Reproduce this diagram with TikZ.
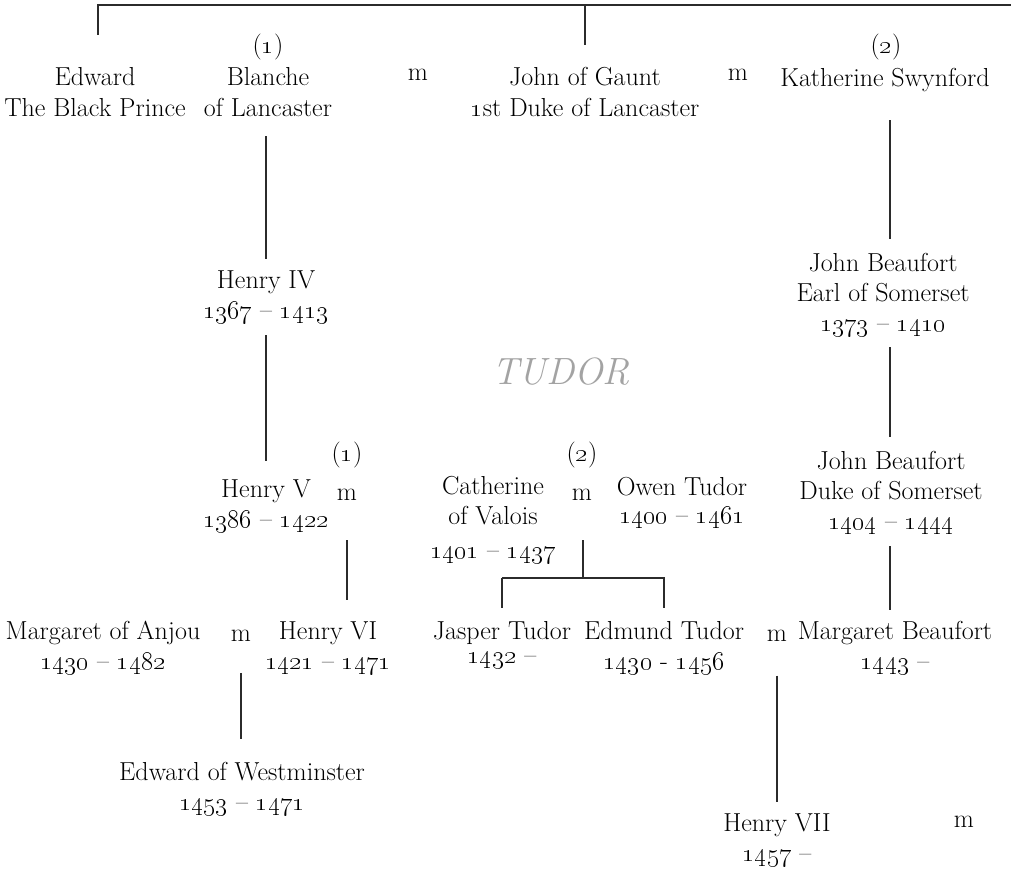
\RequirePackage{fix-cm}
\documentclass[tikz,border=0pt]{standalone}
\usepackage{tikz}
\usetikzlibrary{positioning, calc}
\definecolor{inkline}{HTML}{2B2B2B}
\definecolor{housegray}{HTML}{A3A3A3}
\newcommand\personfont{\fontsize{18.5}{21.5}\selectfont}
\newcommand\yr[1]{\oldstylenums{#1}}
\tikzset{
  person/.style={align=center, inner sep=0pt, font=\personfont},
  wed/.style={inner sep=0pt, font=\personfont},
  link/.style={draw=inkline, line width=1.4pt, shorten <=10pt, shorten >=10pt},
}

\begin{document}
\begin{tikzpicture}[x=0.025cm, y=-0.025cm]
    \useasboundingbox (0,0) rectangle (1011,868);

    % first row
    \node [person] (edward) at (95,92) {Edward\\The Black Prince};
    \node [wed] (one1) at (268,47) {(\yr{1})};
    \node [person] (blanche) at (268,92) {Blanche\\of Lancaster};
    \node [wed] (m1) at (418,75) {m};
    \node [person] (gaunt) at (585,92) {John of Gaunt\\\yr{1}st Duke of Lancaster};
    \node [wed] (m2) at (738,75) {m};
    \node [wed] (two1) at (886,47) {(\yr{2})};
    \node [person] (kath) at (885,80) {Katherine Swynford};

    \node [font=\fontsize{27}{30}\selectfont\itshape, text=housegray] (house) at (561,372) {TUDOR};

    % Lancaster line
    \node [person] (henry4) at (266,297) {Henry IV\\\yr{1367} -- \yr{1413}};
    \node [person] (henry5) at (266,506) {Henry V\\\yr{1386} -- \yr{1422}};
    \node [wed] (one2) at (347,455) {(\yr{1})};
    \node [wed] (m3) at (347,495) {m};
    \node [person] (anjou) at (103,648) {Margaret of Anjou\\\yr{1430} -- \yr{1482}};
    \node [wed] (m5) at (241,636) {m};
    \node [person] (henry6) at (328,648) {Henry VI\\\yr{1421} -- \yr{1471}};
    \node [person] (westm) at (242,789) {Edward of Westminster\\\yr{1453} -- \yr{1471}};

    % Valois and Tudor
    \node [wed] (two2) at (582,455) {(\yr{2})};
    \node [person] (cath) at (493,520) {Catherine\\of Valois\\[3pt]\yr{1401} -- \yr{1437}};
    \node [wed] (m4) at (582,495) {m};
    \node [person] (owen) at (682,503) {Owen Tudor\\[-2pt]\yr{1400} -- \yr{1461}};
    \node [person] (jasper) at (502,645) {Jasper Tudor\\[-4pt]\yr{1432} --};
    \node [person] (edmund) at (664,648) {Edmund Tudor\\\yr{1430} - \yr{1456}};
    \node [wed] (m6) at (777,636) {m};
    \node [person] (henry7) at (777,840) {Henry VII\\\yr{1457} --};
    \node [wed] (m7) at (964,822) {m};

    % Beaufort line
    \node [person] (jbeauf1) at (883,295) {John Beaufort\\Earl of Somerset\\\yr{1373} -- \yr{1410}};
    \node [person] (jbeauf2) at (891,493) {John Beaufort\\Duke of Somerset\\\yr{1404} -- \yr{1444}};
    \node [person] (mbeauf) at (895,648) {Margaret Beaufort\\\yr{1443} --};

    % connectors
    \coordinate (topL) at (98,5);
    \coordinate (topR) at (1011,5);
    \coordinate (beaufcol) at (890,0);
    \draw [link, shorten <=0pt, shorten >=23pt] (topR) -- (topL) -- (topL |- edward.north);
    \draw [link, shorten <=0pt, shorten >=16pt] (gaunt.north |- topL) -- (gaunt.north);

    \draw [link, shorten <=14pt, shorten >=8pt] (blanche.south -| henry4.north) -- (henry4.north);
    \draw [link, shorten <=8pt, shorten >=13pt] (henry4.south) -- (henry5.north);
    \draw [link, shorten <=28pt, shorten >=15pt] (m3.south) -- (m3.south |- henry6.north);
    \draw [link, shorten <=22pt, shorten >=16pt] (m5.south) -- (m5.south |- westm.north);

    \draw [link, shorten <=20pt, shorten >=10pt] (kath.south -| beaufcol) -- (jbeauf1.north -| beaufcol);
    \draw [link, shorten <=7pt, shorten >=10pt] (jbeauf1.south -| beaufcol) -- (jbeauf2.north -| beaufcol);
    \draw [link, shorten <=8pt, shorten >=8pt] (jbeauf2.south -| beaufcol) -- (mbeauf.north -| beaufcol);

    \coordinate (fork) at (583,578);
    \draw [link, shorten >=0pt, shorten <=28pt] (m4.south -| fork) -- (fork);
    \draw [link, shorten <=0pt, shorten >=9pt] (fork -| jasper.north) -- (fork -| edmund.north) -- (edmund.north);
    \draw [link, shorten <=0pt, shorten >=9pt] (fork -| jasper.north) -- (jasper.north);
    \draw [link, shorten <=24pt, shorten >=8pt] (m6.south) -- (m6.south |- henry7.north);
\end{tikzpicture}
\end{document}
